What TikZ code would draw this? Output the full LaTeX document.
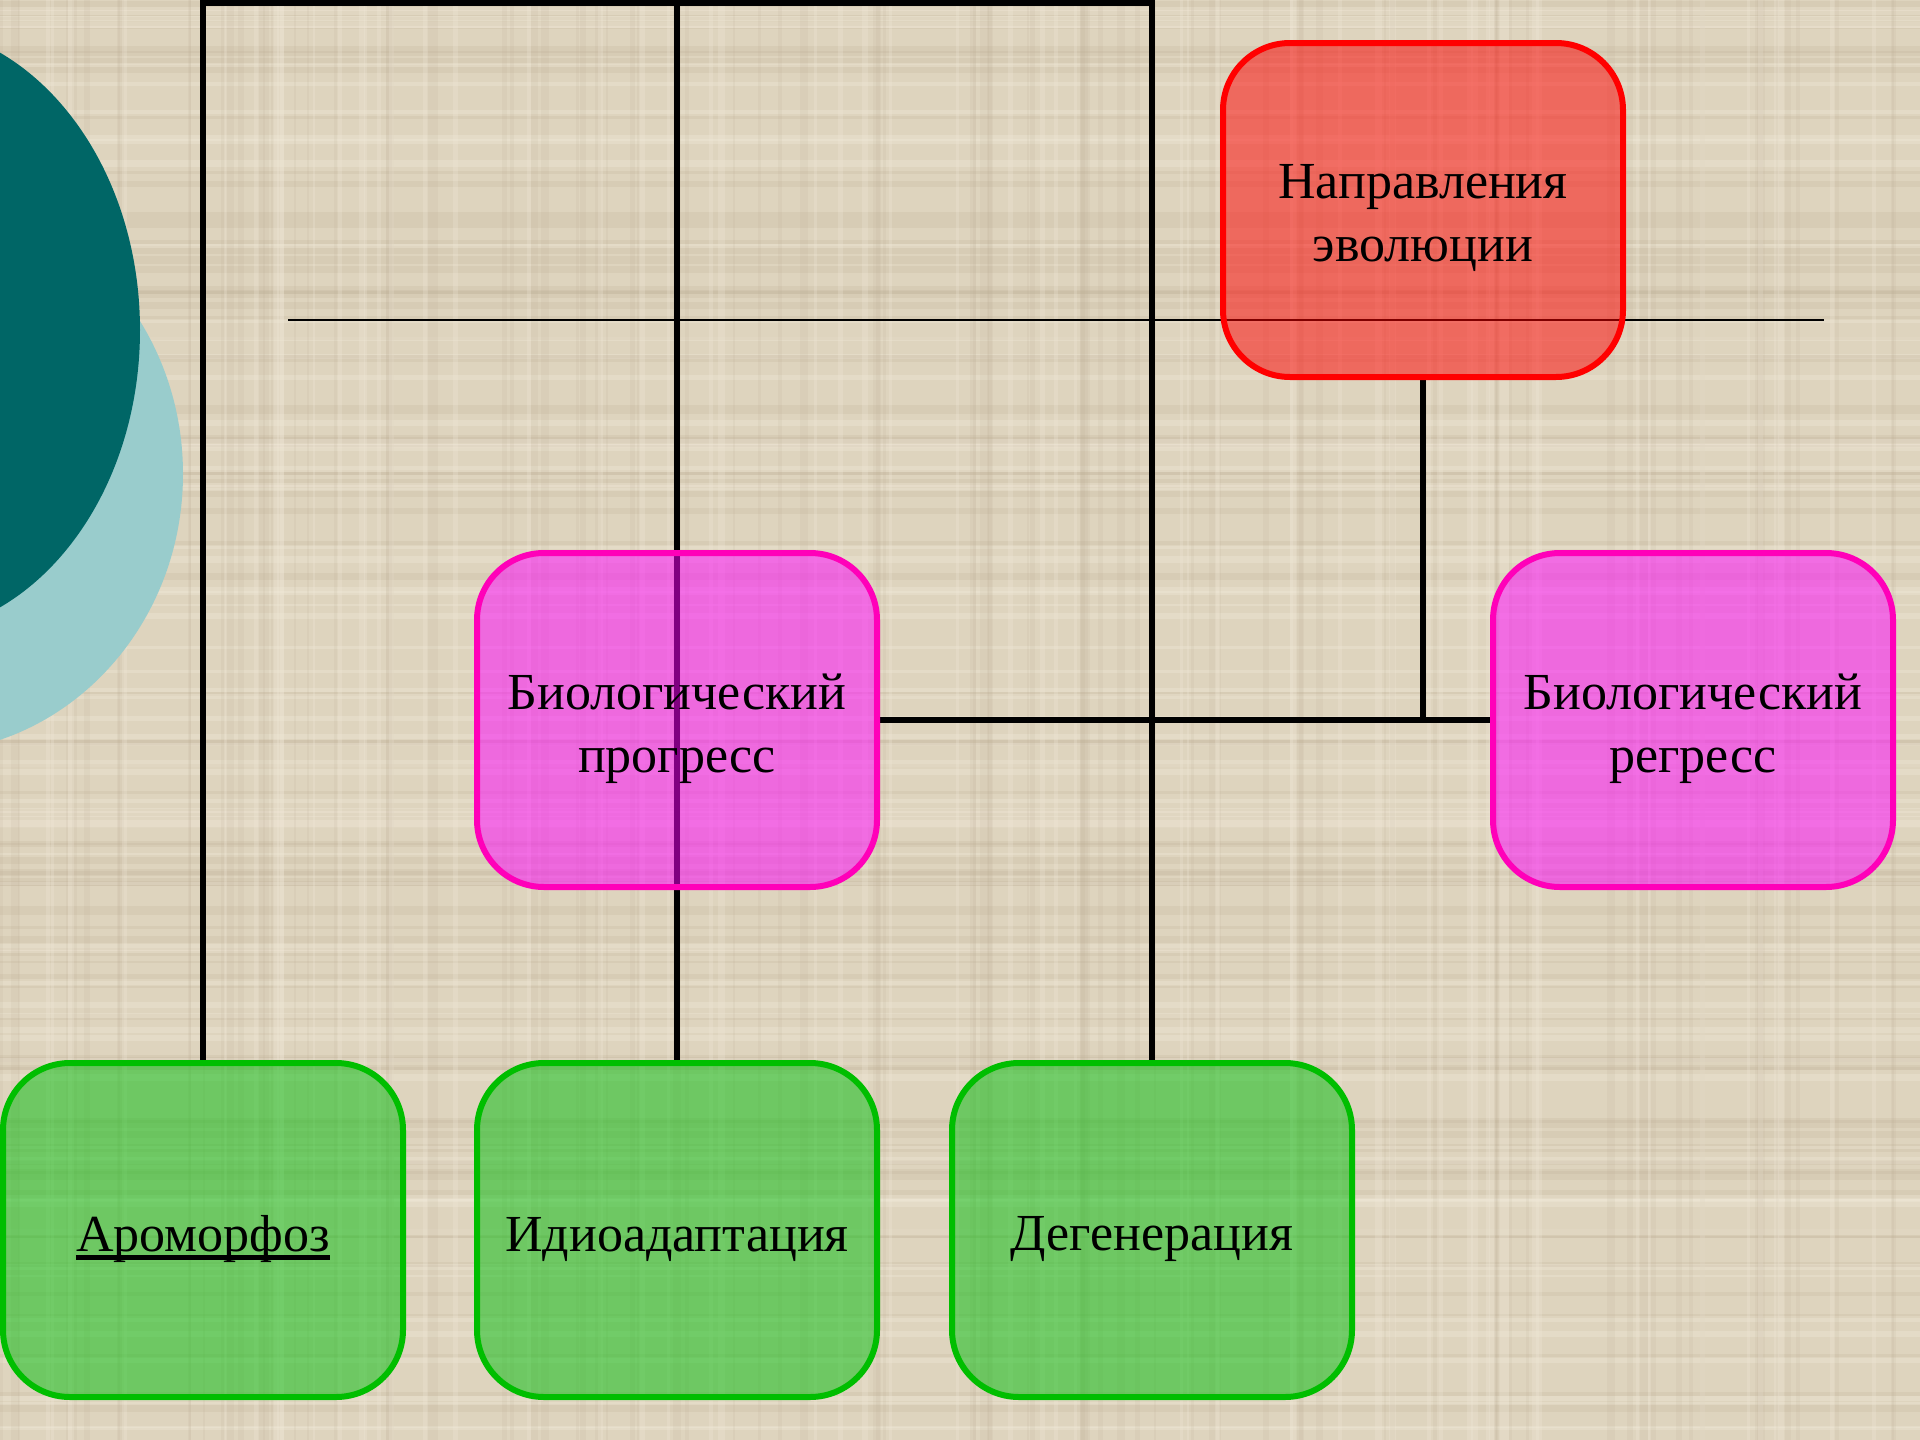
\documentclass[tikz,border=0pt]{standalone}
\usepackage{fontspec}
\setmainfont{Liberation Serif}
\definecolor{bgc}{RGB}{222,212,190}
\definecolor{bgdark}{RGB}{185,170,145}
\definecolor{bglight}{RGB}{242,234,218}
\definecolor{tealdark}{RGB}{0,102,102}
\definecolor{teallight}{RGB}{153,204,204}
\definecolor{redB}{RGB}{255,0,0}
\definecolor{magB}{RGB}{255,0,185}
\definecolor{magF}{RGB}{255,0,255}
\definecolor{grnB}{RGB}{0,190,0}
\definecolor{grnF}{RGB}{0,190,10}
\pgfdeclarelayer{bottom}
\pgfdeclarelayer{lines}
\pgfsetlayers{bottom,lines,main}
\begin{document}
\begin{tikzpicture}[x=1pt,y=-1pt,
  box/.style={rounded corners=67pt, minimum width=400pt, minimum height=334pt,
    line width=6pt, inner sep=0pt, fill opacity=0.5},
  boxtext/.style={align=center, inner sep=0pt, text=black,
    font=\fontsize{52}{63}\selectfont},
  redbox/.style={box, draw=redB, fill=redB},
  magbox/.style={box, draw=magB, fill=magF},
  grnbox/.style={box, draw=grnB, fill=grnF},
  conn/.style={line width=6pt, black, line join=miter},
  thinline/.style={line width=2.5pt, black},
  uline/.style={line width=4.5pt, black}]
\useasboundingbox (0,0) rectangle (1920,1440);
\begin{pgfonlayer}{bottom}
\clip (0,0) rectangle (1920,1440);
\fill[bgc] (0,0) rectangle (1920,1440);
\pgfmathsetseed{11}
\foreach \i in {1,...,90}{
  \pgfmathsetmacro\yy{rnd*1440}
  \pgfmathsetmacro\ww{rnd*7+2}
  \fill[bgdark, opacity=0.18] (0,\yy) rectangle (1920,\yy+\ww);
}
\foreach \i in {1,...,70}{
  \pgfmathsetmacro\yy{rnd*1440}
  \pgfmathsetmacro\ww{rnd*6+2}
  \fill[bglight, opacity=0.35] (0,\yy) rectangle (1920,\yy+\ww);
}
\foreach \i in {1,...,90}{
  \pgfmathsetmacro\xx{rnd*1920}
  \pgfmathsetmacro\ww{rnd*6+2}
  \fill[bgdark, opacity=0.12] (\xx,0) rectangle (\xx+\ww,1440);
}
\foreach \i in {1,...,60}{
  \pgfmathsetmacro\xx{rnd*1920}
  \pgfmathsetmacro\ww{rnd*5+2}
  \fill[bglight, opacity=0.25] (\xx,0) rectangle (\xx+\ww,1440);
}
\fill[teallight] (-80,474) ellipse [x radius=263pt, y radius=279pt];
\fill[tealdark] (-100,330) ellipse [x radius=240pt, y radius=305pt];
\end{pgfonlayer}

\node[redbox] (dir) at (1423,210) {};
\node[magbox] (prog) at (677,720) {};
\node[magbox] (regr) at (1693,720) {};
\node[grnbox] (aro) at (203,1230) {};
\node[grnbox] (idio) at (677,1230) {};
\node[grnbox] (deg) at (1152,1230) {};

\node[boxtext] (dirT) at ([yshift=-8pt]dir.center) {Направления\\эволюции};
\node[boxtext] (progT) at ([yshift=-9pt]prog.center) {Биологический\\прогресс};
\node[boxtext] (regrT) at ([yshift=-9pt]regr.center) {Биологический\\регресс};
\node[boxtext] (aroT) at ([yshift=-9pt]aro.center) {Ароморфоз};
\node[boxtext] (idioT) at ([yshift=-9pt]idio.center) {Идиоадаптация};
\node[boxtext] (degT) at ([yshift=-9pt]deg.center) {Дегенерация};
\draw[uline] ([yshift=-6pt]aroT.base west) -- ([yshift=-6pt]aroT.base east);

\coordinate (tl) at (0,3);
\coordinate (h1) at (288,320);
\coordinate (h2) at (1824,320);

\begin{pgfonlayer}{lines}
\draw[thinline] (h1) -- (h2);
\draw[conn] (aro.north) -- (aro.north |- tl) -- (deg.north |- tl) -- (deg.north);
\draw[conn] (idio.north) -- (idio.north |- tl);
\draw[conn] (dir.south) |- (prog.east);
\draw[conn] (dir.south) |- (regr.west);
\end{pgfonlayer}
\end{tikzpicture}
\end{document}
